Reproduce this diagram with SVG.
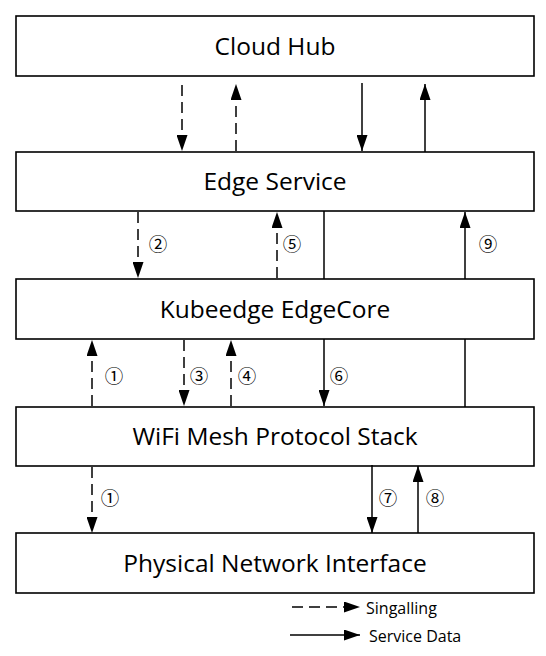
<svg xmlns="http://www.w3.org/2000/svg" width="546" height="656" viewBox="0 0 546 656">
<style>
.box{fill:#fff;stroke:#000;stroke-width:1.6}
.lbl{font-family:"Open Sans","Noto Sans","Liberation Sans",sans-serif;font-size:24.5px;fill:#000;text-anchor:middle;dominant-baseline:central}
.num{font-family:"Noto Sans CJK SC","Noto Sans","DejaVu Sans",sans-serif;font-size:18.5px;fill:#000;text-anchor:middle;dominant-baseline:central}
.leg{font-family:"Open Sans","Noto Sans","Liberation Sans",sans-serif;font-size:16px;fill:#000;dominant-baseline:central}
.sol{stroke:#000;stroke-width:1.5;fill:none}
.das{stroke:#000;stroke-width:1.5;fill:none;stroke-dasharray:11 6}
.arr{marker-end:url(#ah)}
</style>
<defs>
<marker id="ah" markerUnits="userSpaceOnUse" markerWidth="16" markerHeight="11" viewBox="0 0 16 11" refX="16" refY="5.5" orient="auto">
<path d="M0,0 L16,5.5 L0,11 Z" fill="#000"/>
</marker>
</defs>
<g id="cloud-hub"><rect class="box" x="16" y="16" width="518" height="60"/><text class="lbl" x="275" y="45">Cloud Hub</text></g>
<g id="edge-service"><rect class="box" x="16" y="152" width="518" height="59"/><text class="lbl" x="275" y="180">Edge Service</text></g>
<g id="kubeedge-edgecore"><rect class="box" x="16" y="279" width="518" height="60"/><text class="lbl" x="275" y="308">Kubeedge EdgeCore</text></g>
<g id="wifi-mesh"><rect class="box" x="16" y="407" width="518" height="59"/><text class="lbl" x="275" y="435">WiFi Mesh Protocol Stack</text></g>
<g id="physical"><rect class="box" x="16" y="533" width="518" height="60"/><text class="lbl" x="275" y="562">Physical Network Interface</text></g>
<g id="connectors">
<line class="das arr" x1="182" y1="85" x2="182" y2="151"/>
<line class="das arr" x1="236" y1="151" x2="236" y2="84"/>
<line class="sol arr" x1="362" y1="83" x2="362" y2="151"/>
<line class="sol arr" x1="425" y1="152" x2="425" y2="84"/>
<line class="das arr" x1="138" y1="212" x2="138" y2="278"/>
<line class="das arr" x1="277" y1="278" x2="277" y2="212"/>
<line class="sol" x1="324" y1="211" x2="324" y2="279"/>
<line class="sol arr" x1="465" y1="279" x2="465" y2="212"/>
<line class="das arr" x1="92" y1="406" x2="92" y2="340"/>
<line class="das arr" x1="184" y1="340" x2="184" y2="406"/>
<line class="das arr" x1="231" y1="406" x2="231" y2="340"/>
<line class="sol arr" x1="324" y1="339" x2="324" y2="406"/>
<line class="sol" x1="465" y1="339" x2="465" y2="407"/>
<line class="das arr" x1="92" y1="467" x2="92" y2="533"/>
<line class="sol arr" x1="372" y1="465" x2="372" y2="533"/>
<line class="sol arr" x1="418" y1="533" x2="418" y2="466"/>
<text class="num" x="158" y="243">②</text>
<text class="num" x="292" y="243">⑤</text>
<text class="num" x="488" y="243">⑨</text>
<text class="num" x="114" y="375">①</text>
<text class="num" x="199" y="375">③</text>
<text class="num" x="247" y="375">④</text>
<text class="num" x="339" y="375">⑥</text>
<text class="num" x="110" y="497">①</text>
<text class="num" x="388" y="497">⑦</text>
<text class="num" x="435" y="497">⑧</text>
</g>
<g id="legend">
<line class="das arr" x1="292" y1="607" x2="360" y2="607"/>
<text class="leg" x="366" y="608">Singalling</text>
<line class="sol arr" x1="290" y1="635" x2="360" y2="635"/>
<text class="leg" x="369" y="636">Service Data</text>
</g>
</svg>
